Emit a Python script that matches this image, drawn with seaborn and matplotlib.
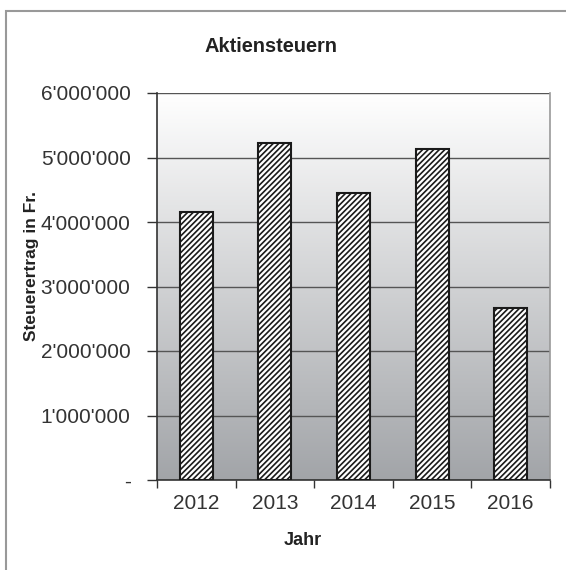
import numpy as np
import pandas as pd
import matplotlib
matplotlib.use("Agg")
import matplotlib.pyplot as plt
import matplotlib.ticker as mticker
from matplotlib.patches import Rectangle
import seaborn as sns

# ---- data ----
years = ["2012", "2013", "2014", "2015", "2016"]
values = [4160000, 5220000, 4445000, 5130000, 2660000]
y_ticks = [0, 1000000, 2000000, 3000000, 4000000, 5000000, 6000000]
title = "Aktiensteuern"
x_label = "Jahr"
y_label = "Steuerertrag in Fr."

sns.set_style("white")
plt.rcParams['font.family'] = ['Liberation Sans', 'DejaVu Sans']
plt.rcParams['hatch.linewidth'] = 1.2
plt.rcParams['hatch.color'] = '#1a1a1a'

df = pd.DataFrame({"Jahr": years, "Wert": values})

fig = plt.figure(figsize=(5.66, 5.70), dpi=100)
fig.patch.set_facecolor("white")
ax = fig.add_axes([157/566, 90/570, 393/566, 387/570])

# gradient background
grad = np.linspace(0, 1, 256).reshape(-1, 1)
top = np.array([1.0, 1.0, 1.0])
bot = np.array([0.635, 0.645, 0.66])
img = top[None, None, :] * (1 - grad[:, :, None]) + bot[None, None, :] * grad[:, :, None]
ax.imshow(img, extent=[0, 1, 0, 1], transform=ax.transAxes, aspect='auto', zorder=0)

sns.barplot(data=df, x="Jahr", y="Wert", color="white", edgecolor="#1a1a1a",
            linewidth=1.5, width=0.42, ax=ax, zorder=3)
for p in ax.patches:
    p.set_hatch("//////")
    p.set_facecolor("white")

ax.set_xlim(-0.5, len(years) - 0.5)
ax.set_ylim(0, 6000000)
ax.set_yticks(y_ticks)

def fmt(v, pos):
    if v == 0:
        return "-"
    return f"{int(v):,}".replace(",", "'")
ax.yaxis.set_major_formatter(mticker.FuncFormatter(fmt))

ax.yaxis.grid(True, color="#555555", linewidth=1.0, zorder=1)
ax.set_axisbelow(True)

ax.spines["top"].set_visible(False)
ax.spines["right"].set_color("#999999")
ax.spines["right"].set_linewidth(1.2)
ax.spines["left"].set_color("#333333")
ax.spines["left"].set_linewidth(1.2)
ax.spines["bottom"].set_color("#333333")
ax.spines["bottom"].set_linewidth(1.2)

ax.tick_params(axis="y", left=True, length=7, width=1, color="#333333",
               pad=12, labelsize=15, labelcolor="#333333")
ax.tick_params(axis="x", which="major", bottom=True, length=0, pad=10,
               labelsize=15, labelcolor="#333333")
ax.set_xticks(np.arange(-0.5, len(years)), minor=True)
ax.tick_params(axis="x", which="minor", bottom=True, length=6, width=1, color="#333333")

ax.set_xlabel(x_label, fontsize=13, fontweight="bold", color="#222222")
ax.xaxis.set_label_coords(0.3715, -0.135)
ax.set_ylabel(y_label, fontsize=12.5, fontweight="bold", color="#222222")
ax.yaxis.set_label_coords(-0.300, 0.552)

ax.set_title(title, x=(271-157)/393, y=(480-55)/387, va="center",
             fontsize=14.4, fontweight="bold", color="#222222")

# outer chart border
border = Rectangle((6/566, -0.1), 1.2, 1.1 - 11/570, transform=fig.transFigure,
                   fill=False, edgecolor="#999999", linewidth=1.5, clip_on=False)
fig.patches.append(border)

fig.savefig("out.png", dpi=100)
